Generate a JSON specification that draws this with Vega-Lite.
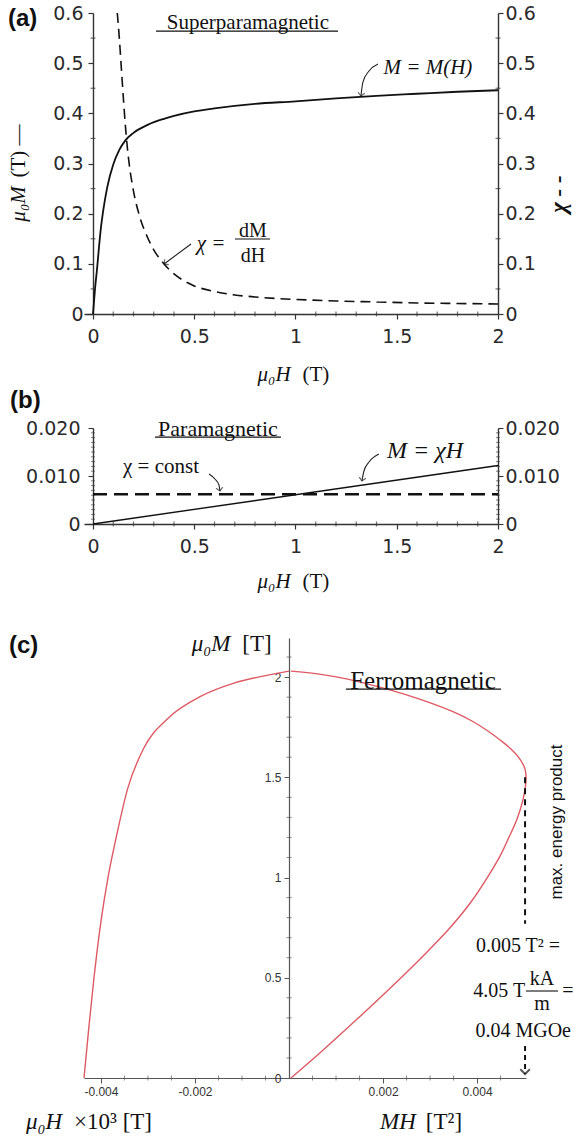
{
"$schema":"https://vega.github.io/schema/vega-lite/v6.json",
"padding":{"left":7,"top":4,"right":0,"bottom":0},
"bounds":"flush",
"spacing":114,
"config":{"view":{"stroke":null},"axis":{"grid":false},"text":{"color":"#111"}},
"datasets":{
"mA":[{"h":0,"m":0},{"h":0.005,"m":0.025},{"h":0.01,"m":0.05},{"h":0.02,"m":0.09},{"h":0.03,"m":0.135},{"h":0.04,"m":0.175},{"h":0.05,"m":0.205},{"h":0.07,"m":0.252},{"h":0.1,"m":0.298},{"h":0.13,"m":0.327},{"h":0.16,"m":0.346},{"h":0.2,"m":0.361},{"h":0.27,"m":0.377},{"h":0.35,"m":0.389},{"h":0.4,"m":0.395},{"h":0.5,"m":0.404},{"h":0.6,"m":0.41},{"h":0.8,"m":0.419},{"h":1,"m":0.424},{"h":1.2,"m":0.43},{"h":1.4,"m":0.435},{"h":1.6,"m":0.439},{"h":1.8,"m":0.443},{"h":2,"m":0.446}],
"chiA":[{"h":0.12,"chi":0.6},{"h":0.13,"chi":0.55},{"h":0.14,"chi":0.49},{"h":0.15,"chi":0.43},{"h":0.16,"chi":0.375},{"h":0.17,"chi":0.33},{"h":0.18,"chi":0.295},{"h":0.2,"chi":0.245},{"h":0.23,"chi":0.195},{"h":0.27,"chi":0.152},{"h":0.3,"chi":0.128},{"h":0.35,"chi":0.1},{"h":0.4,"chi":0.08},{"h":0.45,"chi":0.066},{"h":0.5,"chi":0.056},{"h":0.6,"chi":0.045},{"h":0.7,"chi":0.038},{"h":0.8,"chi":0.034},{"h":0.9,"chi":0.031},{"h":1,"chi":0.029},{"h":1.2,"chi":0.026},{"h":1.4,"chi":0.024},{"h":1.6,"chi":0.022},{"h":1.8,"chi":0.021},{"h":2,"chi":0.02}],
"mB":[{"h":0,"m":0},{"h":2,"m":0.0122}],
"chiB":[{"h":0,"chi":0.0062},{"h":2,"chi":0.0062}],
"demagC":[{"h":-0.00436,"m":0},{"h":-0.00426,"m":0.245},{"h":-0.00415,"m":0.495},{"h":-0.004,"m":0.78},{"h":-0.00385,"m":1.0},{"h":-0.00368,"m":1.195},{"h":-0.00343,"m":1.445},{"h":-0.00309,"m":1.645},{"h":-0.00257,"m":1.795},{"h":-0.00187,"m":1.905},{"h":-0.00117,"m":1.97},{"h":-0.00045,"m":2.01},{"h":0,"m":2.03}],
"energyC":[{"i":0,"mh":0.00004,"m":2.03},{"i":1,"mh":0.00064,"m":2.015},{"i":2,"mh":0.00125,"m":1.99},{"i":3,"mh":0.00185,"m":1.955},{"i":4,"mh":0.00245,"m":1.915},{"i":5,"mh":0.00302,"m":1.87},{"i":6,"mh":0.00351,"m":1.825},{"i":7,"mh":0.00389,"m":1.781},{"i":8,"mh":0.00423,"m":1.731},{"i":9,"mh":0.00449,"m":1.686},{"i":10,"mh":0.00472,"m":1.641},{"i":11,"mh":0.00491,"m":1.591},{"i":12,"mh":0.00502,"m":1.541},{"i":13,"mh":0.00504,"m":1.491},{"i":14,"mh":0.00498,"m":1.392},{"i":15,"mh":0.00485,"m":1.292},{"i":16,"mh":0.00466,"m":1.192},{"i":17,"mh":0.00451,"m":1.117},{"i":18,"mh":0.00425,"m":1.012},{"i":19,"mh":0.00387,"m":0.878},{"i":20,"mh":0.0034,"m":0.743},{"i":21,"mh":0.00281,"m":0.599},{"i":22,"mh":0.00211,"m":0.439},{"i":23,"mh":0.00138,"m":0.279},{"i":24,"mh":0.00068,"m":0.13},{"i":25,"mh":0.00004,"m":0}],
"arrowMA":[{"x":1.323,"y":0.4345},{"x":1.333,"y":0.4624},{"x":1.363,"y":0.4844},{"x":1.407,"y":0.4983}],
"arrowChiA":[{"x":0.351,"y":0.0997},{"x":0.484,"y":0.1395}],
"arrowChiB":[{"x":0.573,"y":0.01042},{"x":0.602,"y":0.00938},{"x":0.622,"y":0.00813},{"x":0.627,"y":0.00688}],
"arrowMB":[{"x":1.328,"y":0.00896},{"x":1.338,"y":0.01104},{"x":1.363,"y":0.01292},{"x":1.412,"y":0.01458}],
"minorH":[{"v":0.1},{"v":0.2},{"v":0.3},{"v":0.4},{"v":0.6},{"v":0.7},{"v":0.8},{"v":0.9},{"v":1.1},{"v":1.2},{"v":1.3},{"v":1.4},{"v":1.6},{"v":1.7},{"v":1.8},{"v":1.9}],
"minorYA":[{"v":0.05},{"v":0.15},{"v":0.25},{"v":0.35},{"v":0.45},{"v":0.55}],
"minorYB":[{"v":0.001},{"v":0.002},{"v":0.003},{"v":0.004},{"v":0.005},{"v":0.006},{"v":0.007},{"v":0.008},{"v":0.009},{"v":0.011},{"v":0.012},{"v":0.013},{"v":0.014},{"v":0.015},{"v":0.016},{"v":0.017},{"v":0.018},{"v":0.019}],
"minorXC":[{"v":-0.0035},{"v":-0.003},{"v":-0.0025},{"v":-0.0015},{"v":-0.001},{"v":-0.0005},{"v":0.0005},{"v":0.001},{"v":0.0015},{"v":0.0025},{"v":0.003},{"v":0.0035},{"v":0.0045}],
"minorYC":[{"v":0.1},{"v":0.2},{"v":0.3},{"v":0.4},{"v":0.6},{"v":0.7},{"v":0.8},{"v":0.9},{"v":1.1},{"v":1.2},{"v":1.3},{"v":1.4},{"v":1.6},{"v":1.7},{"v":1.8},{"v":1.9},{"v":2.1}]
},
"vconcat":[
{
"width":414,"height":301,
"layer":[
{"layer":[
{"data":{"name":"mA"},"mark":{"type":"line","color":"#111","strokeWidth":1.8,"interpolate":"monotone"},
"encoding":{
"x":{"field":"h","type":"quantitative","title":null,"scale":{"domain":[-0.04444,2],"nice":false,"zero":false},
"axis":{"title":null,"values":[0,0.5,1,1.5,2],"format":"~g","tickSize":5,"labelPadding":8,"domainColor":"#333","domainWidth":1.4,"tickColor":"#333","tickWidth":1.2,"labelFont":"DejaVu Sans","labelFontSize":19,"labelColor":"#2a2a2a","labelFlush":false,"labelOverlap":false}},
"y":{"field":"m","type":"quantitative","title":null,"scale":{"domain":[0,0.6],"nice":false},
"axis":{"title":null,"orient":"left","offset":-9,"values":[0,0.1,0.2,0.3,0.4,0.5,0.6],"format":"~g","tickSize":5,"labelPadding":5,"domainColor":"#333","domainWidth":1.4,"tickColor":"#333","tickWidth":1.2,"labelFont":"DejaVu Sans","labelFontSize":19,"labelColor":"#2a2a2a","labelOverlap":false}}}},
{"data":{"name":"minorH"},"mark":{"type":"tick","orient":"vertical","color":"#333","size":5,"thickness":1.2},"encoding":{"x":{"field":"v","type":"quantitative","title":null},"y":{"datum":0}}},
{"data":{"name":"minorYA"},"mark":{"type":"tick","orient":"horizontal","color":"#333","size":5,"thickness":1.2},"encoding":{"y":{"field":"v","type":"quantitative","title":null},"x":{"datum":0}}},
{"data":{"name":"minorYA"},"mark":{"type":"tick","orient":"horizontal","color":"#333","size":5,"thickness":1.2},"encoding":{"y":{"field":"v","type":"quantitative","title":null},"x":{"datum":2}}},
{"data":{"name":"arrowMA"},"mark":{"type":"line","color":"#222","strokeWidth":1.1,"interpolate":"monotone"},"encoding":{"x":{"field":"x","type":"quantitative","title":null},"y":{"field":"y","type":"quantitative","title":null}}},
{"data":{"name":"arrowChiA"},"mark":{"type":"line","color":"#222","strokeWidth":1.1},"encoding":{"x":{"field":"x","type":"quantitative","title":null},"y":{"field":"y","type":"quantitative","title":null}}},
{"data":{"values":[{}]},"mark":{"type":"point","shape":"M-1,-1L0,0L1,-1","filled":false,"stroke":"#222","strokeWidth":1.2,"size":45,"angle":8},"encoding":{"x":{"datum":1.323},"y":{"datum":0.4345}}},
{"data":{"values":[{}]},"mark":{"type":"point","shape":"M-1,-1L0,0L1,-1","filled":false,"stroke":"#222","strokeWidth":1.2,"size":45,"angle":53},"encoding":{"x":{"datum":0.351},"y":{"datum":0.0997}}},
{"data":{"values":[{}]},"mark":{"type":"text","text":"(a)","font":"Liberation Sans","fontWeight":"bold","fontSize":24,"align":"left","baseline":"middle"},"encoding":{"x":{"datum":-0.4198},"y":{"datum":0.588}}},
{"data":{"values":[{}]},"mark":{"type":"text","text":"Superparamagnetic","font":"Liberation Serif","fontSize":21,"align":"center","baseline":"middle"},"encoding":{"x":{"datum":0.765},"y":{"datum":0.58}}},
{"data":{"values":[{}]},"mark":{"type":"rule","color":"#111","strokeWidth":1.2},"encoding":{"x":{"datum":0.311},"x2":{"datum":1.21},"y":{"datum":0.564}}},
{"data":{"values":[{}]},"mark":{"type":"text","text":"M = M(H)","font":"Liberation Serif","fontStyle":"italic","fontSize":21,"align":"center","baseline":"middle"},"encoding":{"x":{"datum":1.654},"y":{"datum":0.4903}}},
{"data":{"values":[{}]},"mark":{"type":"text","text":"χ =","font":"Liberation Serif","fontStyle":"italic","fontSize":21,"align":"center","baseline":"middle"},"encoding":{"x":{"datum":0.583},"y":{"datum":0.1395}}},
{"data":{"values":[{}]},"mark":{"type":"text","text":"dM","font":"Liberation Serif","fontSize":20,"align":"center","baseline":"middle"},"encoding":{"x":{"datum":0.79},"y":{"datum":0.1654}}},
{"data":{"values":[{}]},"mark":{"type":"rule","color":"#111","strokeWidth":1.1},"encoding":{"x":{"datum":0.701},"x2":{"datum":0.874},"y":{"datum":0.1495}}},
{"data":{"values":[{}]},"mark":{"type":"text","text":"dH","font":"Liberation Serif","fontSize":20,"align":"center","baseline":"middle"},"encoding":{"x":{"datum":0.79},"y":{"datum":0.1156}}},
{"data":{"values":[{}]},"mark":{"type":"text","text":"μ₀M","font":"Liberation Serif","fontStyle":"italic","fontSize":21,"angle":270,"align":"center","baseline":"middle"},"encoding":{"x":{"datum":-0.3654},"y":{"datum":0.2193}}},
{"data":{"values":[{}]},"mark":{"type":"text","text":"(T) —","font":"Liberation Serif","fontSize":21,"angle":270,"align":"center","baseline":"middle"},"encoding":{"x":{"datum":-0.3654},"y":{"datum":0.3249}}},
{"data":{"values":[{}]},"mark":{"type":"text","text":"χ - -","font":"Liberation Serif","fontStyle":"italic","fontSize":23,"fontWeight":"bold","angle":270,"align":"center","baseline":"middle"},"encoding":{"x":{"datum":2.301},"y":{"datum":0.239}}},
{"data":{"values":[{}]},"mark":{"type":"text","text":"μ₀H","font":"Liberation Serif","fontStyle":"italic","fontSize":21,"align":"center","baseline":"middle"},"encoding":{"x":{"datum":0.894},"y":{"datum":-0.1216}}},
{"data":{"values":[{}]},"mark":{"type":"text","text":"(T)","font":"Liberation Serif","fontSize":21,"align":"center","baseline":"middle"},"encoding":{"x":{"datum":1.101},"y":{"datum":-0.1216}}}
]},
{"data":{"name":"chiA"},"mark":{"type":"line","color":"#111","strokeWidth":1.6,"strokeDash":[10,6],"interpolate":"monotone"},
"encoding":{
"x":{"field":"h","type":"quantitative","title":null,"scale":{"domain":[-0.04444,2],"nice":false,"zero":false}},
"y":{"field":"chi","type":"quantitative","title":null,"scale":{"domain":[0,0.6],"nice":false},
"axis":{"title":null,"orient":"right","values":[0,0.1,0.2,0.3,0.4,0.5,0.6],"format":"~g","tickSize":5,"labelPadding":2,"domainColor":"#333","domainWidth":1.4,"tickColor":"#333","tickWidth":1.2,"labelFont":"DejaVu Sans","labelFontSize":19,"labelColor":"#2a2a2a","labelOverlap":false}}}}
],
"resolve":{"scale":{"y":"independent"}}
},
{
"width":414,"height":96,
"layer":[
{"layer":[
{"data":{"name":"mB"},"mark":{"type":"line","color":"#111","strokeWidth":1.4},
"encoding":{
"x":{"field":"h","type":"quantitative","title":null,"scale":{"domain":[-0.04444,2],"nice":false,"zero":false},
"axis":{"title":null,"values":[0,0.5,1,1.5,2],"format":"~g","tickSize":5,"labelPadding":8,"domainColor":"#333","domainWidth":1.4,"tickColor":"#333","tickWidth":1.2,"labelFont":"DejaVu Sans","labelFontSize":19,"labelColor":"#2a2a2a","labelFlush":false,"labelOverlap":false}},
"y":{"field":"m","type":"quantitative","title":null,"scale":{"domain":[0,0.02],"nice":false},
"axis":{"title":null,"orient":"left","offset":-9,"values":[0,0.01,0.02],"labelExpr":"datum.value==0 ? '0' : format(datum.value,'.3f')","tickSize":5,"labelPadding":8,"domainColor":"#333","domainWidth":1.4,"tickColor":"#333","tickWidth":1.1,"labelFont":"DejaVu Sans","labelFontSize":19,"labelColor":"#2a2a2a","labelOverlap":false}}}},
{"data":{"name":"minorH"},"mark":{"type":"tick","orient":"vertical","color":"#333","size":5,"thickness":1.2},"encoding":{"x":{"field":"v","type":"quantitative","title":null},"y":{"datum":0}}},
{"data":{"name":"minorYB"},"mark":{"type":"tick","orient":"horizontal","color":"#444","size":4,"thickness":1},"encoding":{"y":{"field":"v","type":"quantitative","title":null},"x":{"datum":0}}},
{"data":{"name":"minorYB"},"mark":{"type":"tick","orient":"horizontal","color":"#444","size":4,"thickness":1},"encoding":{"y":{"field":"v","type":"quantitative","title":null},"x":{"datum":2}}},
{"data":{"name":"arrowChiB"},"mark":{"type":"line","color":"#222","strokeWidth":1.1,"interpolate":"monotone"},"encoding":{"x":{"field":"x","type":"quantitative","title":null},"y":{"field":"y","type":"quantitative","title":null}}},
{"data":{"name":"arrowMB"},"mark":{"type":"line","color":"#222","strokeWidth":1.1,"interpolate":"monotone"},"encoding":{"x":{"field":"x","type":"quantitative","title":null},"y":{"field":"y","type":"quantitative","title":null}}},
{"data":{"values":[{}]},"mark":{"type":"point","shape":"M-1,-1L0,0L1,-1","filled":false,"stroke":"#222","strokeWidth":1.2,"size":45,"angle":350},"encoding":{"x":{"datum":0.627},"y":{"datum":0.00688}}},
{"data":{"values":[{}]},"mark":{"type":"point","shape":"M-1,-1L0,0L1,-1","filled":false,"stroke":"#222","strokeWidth":1.2,"size":45,"angle":11},"encoding":{"x":{"datum":1.328},"y":{"datum":0.00896}}},
{"data":{"values":[{}]},"mark":{"type":"text","text":"(b)","font":"Liberation Sans","fontWeight":"bold","fontSize":24,"align":"left","baseline":"middle"},"encoding":{"x":{"datum":-0.41},"y":{"datum":0.0256}}},
{"data":{"values":[{}]},"mark":{"type":"text","text":"Paramagnetic","font":"Liberation Serif","fontSize":22,"align":"center","baseline":"middle"},"encoding":{"x":{"datum":0.617},"y":{"datum":0.0198}}},
{"data":{"values":[{}]},"mark":{"type":"rule","color":"#111","strokeWidth":1.2},"encoding":{"x":{"datum":0.306},"x2":{"datum":0.928},"y":{"datum":0.0181}}},
{"data":{"values":[{}]},"mark":{"type":"text","text":"χ = const","font":"Liberation Serif","fontSize":21,"align":"center","baseline":"middle"},"encoding":{"x":{"datum":0.336},"y":{"datum":0.01188}}},
{"data":{"values":[{}]},"mark":{"type":"text","text":"M = χH","font":"Liberation Serif","fontStyle":"italic","fontSize":24,"align":"center","baseline":"middle"},"encoding":{"x":{"datum":1.64},"y":{"datum":0.0152}}},
{"data":{"values":[{}]},"mark":{"type":"text","text":"μ₀H","font":"Liberation Serif","fontStyle":"italic","fontSize":21,"align":"center","baseline":"middle"},"encoding":{"x":{"datum":0.894},"y":{"datum":-0.01208}}},
{"data":{"values":[{}]},"mark":{"type":"text","text":"(T)","font":"Liberation Serif","fontSize":21,"align":"center","baseline":"middle"},"encoding":{"x":{"datum":1.101},"y":{"datum":-0.01208}}}
]},
{"data":{"name":"chiB"},"mark":{"type":"line","color":"#111","strokeWidth":2.6,"strokeDash":[14,7]},
"encoding":{
"x":{"field":"h","type":"quantitative","title":null,"scale":{"domain":[-0.04444,2],"nice":false,"zero":false}},
"y":{"field":"chi","type":"quantitative","title":null,"scale":{"domain":[0,0.02],"nice":false},
"axis":{"title":null,"orient":"right","values":[0,0.01,0.02],"labelExpr":"datum.value==0 ? '0' : format(datum.value,'.3f')","tickSize":5,"labelPadding":2,"domainColor":"#333","domainWidth":1.4,"tickColor":"#333","tickWidth":1.1,"labelFont":"DejaVu Sans","labelFontSize":19,"labelColor":"#2a2a2a","labelOverlap":false}}}}
],
"resolve":{"scale":{"y":"independent"}}
},
{
"width":442,"height":440,
"layer":[
{"data":{"name":"demagC"},"mark":{"type":"line","color":"#de5a64","strokeWidth":1.4,"interpolate":"monotone"},
"encoding":{
"x":{"field":"h","type":"quantitative","title":null,"scale":{"domain":[-0.00436,0.00504],"nice":false,"zero":false},
"axis":{"title":null,"values":[-0.004,-0.002,0.002,0.004],"labelExpr":"(datum.value<0 ? '-' : '') + format(abs(datum.value),'.3f')","tickSize":5,"labelPadding":3,"domainColor":"#555","domainWidth":1.2,"tickColor":"#555","tickWidth":1,"labelFont":"Liberation Sans","labelFontSize":12,"labelColor":"#333","labelFlush":false,"labelOverlap":false}},
"y":{"field":"m","type":"quantitative","title":null,"scale":{"domain":[0,2.195],"nice":false},
"axis":{"title":null,"orient":"left","offset":-205,"values":[0,0.5,1,1.5,2],"format":"~g","tickSize":5,"labelPadding":3,"domainColor":"#555","domainWidth":1.2,"tickColor":"#555","tickWidth":1,"labelFont":"Liberation Sans","labelFontSize":12,"labelColor":"#333","labelOverlap":false}}}},
{"data":{"name":"minorXC"},"mark":{"type":"tick","orient":"vertical","color":"#555","size":5,"thickness":1},"encoding":{"x":{"field":"v","type":"quantitative","title":null},"y":{"datum":0}}},
{"data":{"name":"minorYC"},"mark":{"type":"tick","orient":"horizontal","color":"#555","size":5,"thickness":1},"encoding":{"y":{"field":"v","type":"quantitative","title":null},"x":{"datum":0}}},
{"data":{"name":"energyC"},"mark":{"type":"line","color":"#de5a64","strokeWidth":1.4,"interpolate":"catmull-rom"},
"encoding":{"x":{"field":"mh","type":"quantitative","title":null},"y":{"field":"m","type":"quantitative","title":null},"order":{"field":"i","type":"quantitative"}}},
{"data":{"values":[{}]},"mark":{"type":"rule","color":"#111","strokeWidth":2,"strokeDash":[6,5]},"encoding":{"x":{"datum":0.00502},"y":{"datum":1.5},"y2":{"datum":0.77}}},
{"data":{"values":[{}]},"mark":{"type":"rule","color":"#111","strokeWidth":2,"strokeDash":[5,4]},"encoding":{"x":{"datum":0.00502},"y":{"datum":0.16},"y2":{"datum":0.02}}},
{"data":{"values":[{}]},"mark":{"type":"point","shape":"M-1,-1L0,0L1,-1","filled":false,"stroke":"#111","strokeWidth":2,"size":90},"encoding":{"x":{"datum":0.00502},"y":{"datum":0.02}}},
{"data":{"values":[{}]},"mark":{"type":"text","text":"(c)","font":"Liberation Sans","fontWeight":"bold","fontSize":24,"align":"left","baseline":"middle"},"encoding":{"x":{"datum":-0.005955},"y":{"datum":2.155}}},
{"data":{"values":[{}]},"mark":{"type":"text","text":"μ₀M","font":"Liberation Serif","fontStyle":"italic","fontSize":23,"align":"center","baseline":"middle"},"encoding":{"x":{"datum":-0.001659},"y":{"datum":2.165}}},
{"data":{"values":[{}]},"mark":{"type":"text","text":"[T]","font":"Liberation Serif","fontSize":23,"align":"center","baseline":"middle"},"encoding":{"x":{"datum":-0.000681},"y":{"datum":2.165}}},
{"data":{"values":[{}]},"mark":{"type":"text","text":"Ferromagnetic","font":"Liberation Serif","fontSize":25,"align":"center","baseline":"middle"},"encoding":{"x":{"datum":0.00285},"y":{"datum":1.98}}},
{"data":{"values":[{}]},"mark":{"type":"rule","color":"#111","strokeWidth":1.2},"encoding":{"x":{"datum":0.00121},"x2":{"datum":0.00451},"y":{"datum":1.94}}},
{"data":{"values":[{}]},"mark":{"type":"text","text":"max. energy product","font":"Liberation Sans","fontSize":17,"angle":270,"align":"center","baseline":"middle"},"encoding":{"x":{"datum":0.0057},"y":{"datum":1.277}}},
{"data":{"values":[{}]},"mark":{"type":"text","text":"0.005 T² =","font":"Liberation Serif","fontSize":20,"align":"center","baseline":"middle"},"encoding":{"x":{"datum":0.00487},"y":{"datum":0.658}}},
{"data":{"values":[{}]},"mark":{"type":"text","text":"4.05 T","font":"Liberation Serif","fontSize":20,"align":"center","baseline":"middle"},"encoding":{"x":{"datum":0.00447},"y":{"datum":0.434}}},
{"data":{"values":[{}]},"mark":{"type":"text","text":"kA","font":"Liberation Serif","fontSize":20,"align":"center","baseline":"middle"},"encoding":{"x":{"datum":0.00538},"y":{"datum":0.494}}},
{"data":{"values":[{}]},"mark":{"type":"rule","color":"#111","strokeWidth":1.1},"encoding":{"x":{"datum":0.00504},"x2":{"datum":0.00572},"y":{"datum":0.434}}},
{"data":{"values":[{}]},"mark":{"type":"text","text":"m","font":"Liberation Serif","fontSize":20,"align":"center","baseline":"middle"},"encoding":{"x":{"datum":0.00538},"y":{"datum":0.369}}},
{"data":{"values":[{}]},"mark":{"type":"text","text":"=","font":"Liberation Serif","fontSize":20,"align":"center","baseline":"middle"},"encoding":{"x":{"datum":0.00593},"y":{"datum":0.434}}},
{"data":{"values":[{}]},"mark":{"type":"text","text":"0.04 MGOe","font":"Liberation Serif","fontSize":20,"align":"center","baseline":"middle"},"encoding":{"x":{"datum":0.00498},"y":{"datum":0.234}}},
{"data":{"values":[{}]},"mark":{"type":"text","text":"μ₀H","font":"Liberation Serif","fontStyle":"italic","fontSize":23,"align":"center","baseline":"middle"},"encoding":{"x":{"datum":-0.00521},"y":{"datum":-0.2195}}},
{"data":{"values":[{}]},"mark":{"type":"text","text":"×10³ [T]","font":"Liberation Serif","fontSize":23,"align":"center","baseline":"middle"},"encoding":{"x":{"datum":-0.003743},"y":{"datum":-0.2195}}},
{"data":{"values":[{}]},"mark":{"type":"text","text":"MH","font":"Liberation Serif","fontStyle":"italic","fontSize":23,"align":"center","baseline":"middle"},"encoding":{"x":{"datum":0.002318},"y":{"datum":-0.2195}}},
{"data":{"values":[{}]},"mark":{"type":"text","text":"[T²]","font":"Liberation Serif","fontSize":23,"align":"center","baseline":"middle"},"encoding":{"x":{"datum":0.003296},"y":{"datum":-0.2195}}}
]
}
]
}
